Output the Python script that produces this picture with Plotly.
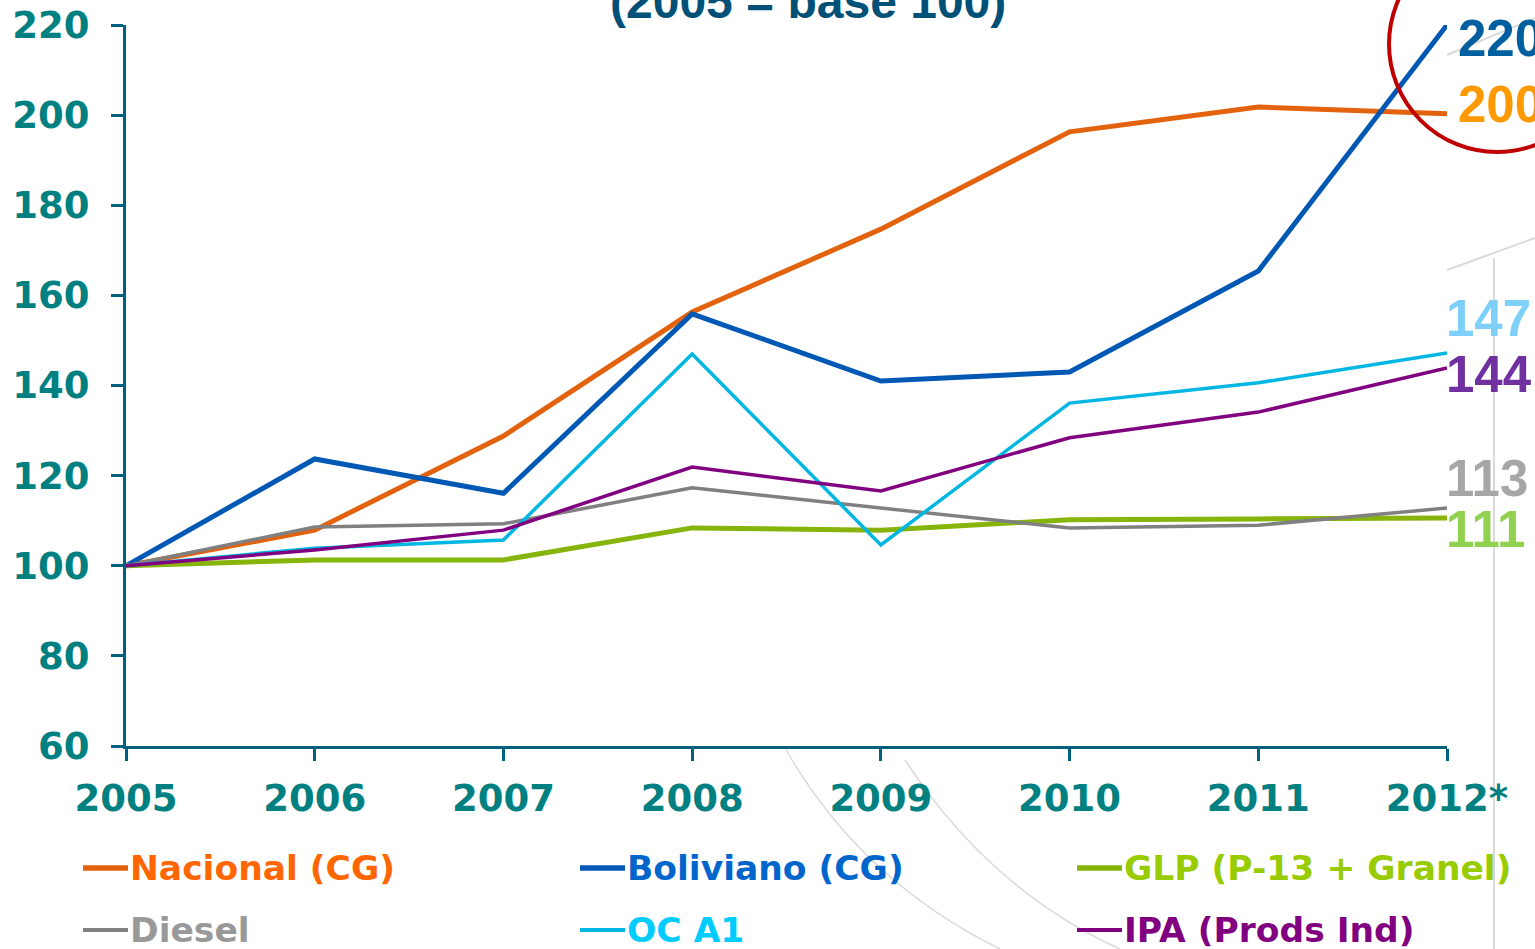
import plotly.graph_objects as go

# datos (2005 = base 100)
anios = [2005, 2006, 2007, 2008, 2009, 2010, 2011, 2012]
etiquetas_x = ["2005", "2006", "2007", "2008", "2009", "2010", "2011", "2012*"]

nacional = [100, 107.9, 128.8, 156.3, 174.7, 196.3, 201.8, 200.3]
boliviano = [100, 123.7, 116.1, 155.9, 141.0, 143.0, 165.4, 220.0]
glp = [100, 101.3, 101.3, 108.4, 107.9, 110.2, 110.4, 110.6]
diesel = [100, 108.6, 109.3, 117.3, 112.8, 108.4, 109.0, 112.8]
oc_a1 = [100, 103.9, 105.7, 147.0, 104.6, 136.1, 140.6, 147.2]
ipa = [100, 103.5, 107.9, 121.9, 116.6, 128.4, 134.1, 143.9]

etiquetas_fin = ["200", "220", "111", "113", "147", "144"]

# nombre, valores, color linea, color texto, grosor, color etiqueta, desplazamiento etiqueta (x, y)
series = [
    ("Nacional (CG)", nacional, "#E2620E", "#FF6600", 5, "#FF9900", (9, 9)),
    ("Boliviano (CG)", boliviano, "#0058B5", "#0066CC", 5, "#00609F", (9, -13)),
    ("GLP (P-13 + Granel)", glp, "#86B40A", "#99CC00", 5, "#92D050", (-3, -12)),
    ("Diesel", diesel, "#808080", "#999999", 3.5, "#A6A6A6", (-3, 30)),
    ("OC A1", oc_a1, "#00B6E2", "#00CCFF", 3.5, "#7FD0F8", (-3, 35)),
    ("IPA (Prods Ind)", ipa, "#800080", "#800080", 3.5, "#7030A0", (-3, -7)),
]

W, H = 1535, 949
L, R, T, B = 126, 88, 25, 203


def px_x(px):
    return (px - L) / (W - L - R)


def px_y(py):
    return (H - B - py) / (H - T - B)


fig = go.Figure()

for nombre, valores, color, _, ancho, _, _ in series:
    fig.add_trace(go.Scatter(
        x=anios, y=valores, mode="lines", name=nombre,
        line=dict(color=color, width=ancho),
        cliponaxis=False,
    ))

# etiquetas a la derecha
for (nombre, valores, _, _, _, color_lbl, (dx, dy)), txt in zip(series, etiquetas_fin):
    fig.add_annotation(
        x=anios[-1], y=valores[-1], xref="x", yref="y",
        text=f"<b>{txt}</b>", showarrow=False,
        xanchor="left", yanchor="middle", xshift=dx, yshift=dy,
        font=dict(family="Liberation Sans", size=51, color=color_lbl),
    )

# leyenda manual (3 columnas, 2 filas)
col_x = [83, 580, 1077]
fila_y = [868, 930]
for i, (nombre, _, color, color_txt, ancho, _, _) in enumerate(series):
    cx = col_x[i % 3]
    fy = fila_y[i // 3]
    fig.add_shape(type="line", xref="paper", yref="paper",
                  x0=px_x(cx), x1=px_x(cx + 45), y0=px_y(fy), y1=px_y(fy),
                  line=dict(color=color, width=ancho + 0.5))
    fig.add_annotation(
        x=px_x(cx + 45), y=px_y(fy), xref="paper", yref="paper",
        text=f"<b>{nombre}</b>", showarrow=False,
        xanchor="left", yanchor="middle",
        font=dict(family="DejaVu Sans", size=34.5, color=color_txt),
    )

# titulo (recortado arriba)
fig.add_annotation(
    x=px_x(808), y=px_y(30), xref="paper", yref="paper",
    text="<b>(2005 = base 100)</b>", showarrow=False,
    xanchor="center", yanchor="bottom",
    font=dict(family="Liberation Sans", size=48, color="#005077"),
)

# circulo rojo
fig.add_shape(
    type="circle", xref="paper", yref="paper",
    x0=px_x(1389), x1=px_x(1605), y0=px_y(152), y1=px_y(-64),
    line=dict(color="#C00000", width=4),
)

# lineas grises de fondo
gris = dict(color="#DADADA", width=2)
fig.add_shape(type="line", xref="paper", yref="paper",
              x0=px_x(1494), x1=px_x(1494), y0=px_y(258), y1=px_y(949), line=gris, layer="below")
fig.add_shape(type="line", xref="paper", yref="paper",
              x0=px_x(1447), x1=px_x(1535), y0=px_y(55), y1=px_y(18), line=gris, layer="below")
fig.add_shape(type="line", xref="paper", yref="paper",
              x0=px_x(1447), x1=px_x(1535), y0=px_y(270), y1=px_y(238), line=gris, layer="below")
fig.add_shape(type="path", xref="paper", yref="paper",
              path=f"M {px_x(785)} {px_y(748)} Q {px_x(860)} {px_y(880)} {px_x(1000)} {px_y(949)}",
              line=dict(color="#DADADA", width=1.5), layer="below")
fig.add_shape(type="path", xref="paper", yref="paper",
              path=f"M {px_x(905)} {px_y(760)} Q {px_x(990)} {px_y(890)} {px_x(1120)} {px_y(949)}",
              line=dict(color="#DADADA", width=1.5), layer="below")

eje = "#00607F"
fuente_ticks = dict(family="DejaVu Sans", size=37, color="#008080", weight="bold")
fig.update_xaxes(
    range=[2005, 2012], tickvals=anios, ticktext=etiquetas_x,
    showline=True, linecolor=eje, linewidth=3,
    ticks="outside", ticklen=12, tickwidth=3, tickcolor=eje,
    ticklabelstandoff=6,
    showgrid=False, zeroline=False, automargin=False,
    tickfont=fuente_ticks,
)
fig.update_yaxes(
    range=[60, 220], dtick=20,
    showline=True, linecolor=eje, linewidth=3,
    ticks="outside", ticklen=12, tickwidth=3, tickcolor=eje,
    ticklabelstandoff=14,
    showgrid=False, zeroline=False, automargin=False,
    tickfont=fuente_ticks,
)

fig.update_layout(
    width=W, height=H,
    margin=dict(l=L, r=R, t=T, b=B),
    paper_bgcolor="white", plot_bgcolor="white",
    showlegend=False,
)

fig.write_html(
    "out.html",
    config={"displayModeBar": False},
    post_script="document.body.style.margin='0';document.body.style.overflow='hidden';",
)
